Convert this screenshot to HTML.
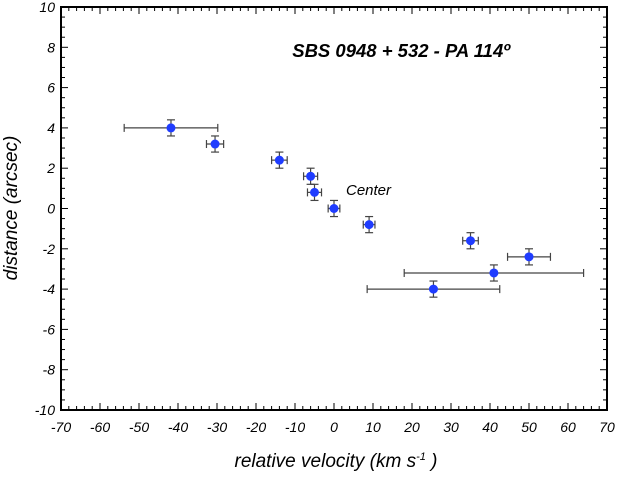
<!DOCTYPE html>
<html><head><meta charset="utf-8"><style>
body{margin:0;background:#fff}
svg text{font-family:"Liberation Sans",Arial,sans-serif;font-style:italic}
</style></head><body>
<svg id="c" width="617" height="473"></svg>
<script>
const xs=[-41.8,-30.5,-14,-6,-5,0,9,35,50,41,25.5];
const ys=[4,3.2,2.4,1.6,0.8,0,-0.8,-1.6,-2.4,-3.2,-4];
const xerr=[12,2.2,2,1.8,1.8,1.5,1.5,2,5.5,23,17];
const yerr=[0.4,0.4,0.4,0.4,0.4,0.4,0.4,0.4,0.4,0.4,0.4];
const xTicks=[-70,-60,-50,-40,-30,-20,-10,0,10,20,30,40,50,60,70];
const yTicks=[-10,-8,-6,-4,-2,0,2,4,6,8,10];
const L=61,R=607,T=7,B=410;
const X=v=>L+(v+70)/140*(R-L);
const Y=v=>B-(v+10)/20*(B-T);
const s=document.getElementById('c');
const NS='http://www.w3.org/2000/svg';
function el(t,a,p){const e=document.createElementNS(NS,t);for(const k in a)e.setAttribute(k,a[k]);(p||s).appendChild(e);return e;}
const frame=el('rect',{x:L,y:T,width:R-L,height:B-T,fill:'none',stroke:'#000','stroke-width':2});


const ax=el('g',{stroke:'#000','stroke-width':1});


for(let v=-70;v<=70;v+=2){const x=X(v),M=v%10===0,l=M?7:4;
 el('line',{x1:x,y1:B,x2:x,y2:B-l},ax);el('line',{x1:x,y1:T,x2:x,y2:T+l},ax);}
for(let v=-10;v<=10;v+=0.5){const y=Y(v),M=Math.abs(v%2)<1e-9,l=M?7:4;
 el('line',{x1:L,y1:y,x2:L+l,y2:y},ax);el('line',{x1:R,y1:y,x2:R-l,y2:y},ax);}
xTicks.forEach(v=>{const t=el('text',{x:X(v),y:B+22,'text-anchor':'middle','font-size':14});t.textContent=v;
 
 });
yTicks.forEach(v=>{const t=el('text',{x:L-6,y:Y(v)+5,'text-anchor':'end','font-size':14});t.textContent=v;
 
 });
const xt=el('text',{x:336,y:467,'text-anchor':'middle','font-size':19});
xt.innerHTML='relative velocity (km s<tspan dy="-7" font-size="11">-1</tspan><tspan dy="7"> )</tspan>';


const yt=el('text',{x:0,y:0,'text-anchor':'middle','font-size':19,transform:'translate(17,208) rotate(-90)'});
yt.textContent='distance (arcsec)';


const ti=el('text',{x:510,y:57,'text-anchor':'end','font-size':18.5,'font-weight':'bold'});
ti.textContent='SBS 0948 + 532 - PA 114º';


const ce=el('text',{x:346,y:195,'font-size':15});
ce.textContent='Center';


xs.forEach((v,i)=>{
 const g=el('g',{stroke:'#444','stroke-width':1.2});
 
 
 const cx=X(v),cy=Y(ys[i]),x1=X(v-xerr[i]),x2=X(v+xerr[i]),y1=Y(ys[i]+yerr[i]),y2=Y(ys[i]-yerr[i]);
 el('line',{x1:x1,y1:cy,x2:x2,y2:cy},g);
 el('line',{x1:x1,y1:cy-4,x2:x1,y2:cy+4},g);el('line',{x1:x2,y1:cy-4,x2:x2,y2:cy+4},g);
 el('line',{x1:cx,y1:y1,x2:cx,y2:y2},g);
 el('line',{x1:cx-4,y1:y1,x2:cx+4,y2:y1},g);el('line',{x1:cx-4,y1:y2,x2:cx+4,y2:y2},g);
 el('circle',{cx:cx,cy:cy,r:4.5,fill:'#1f3cff',stroke:'none'},g);
});
</script>
</body></html>
